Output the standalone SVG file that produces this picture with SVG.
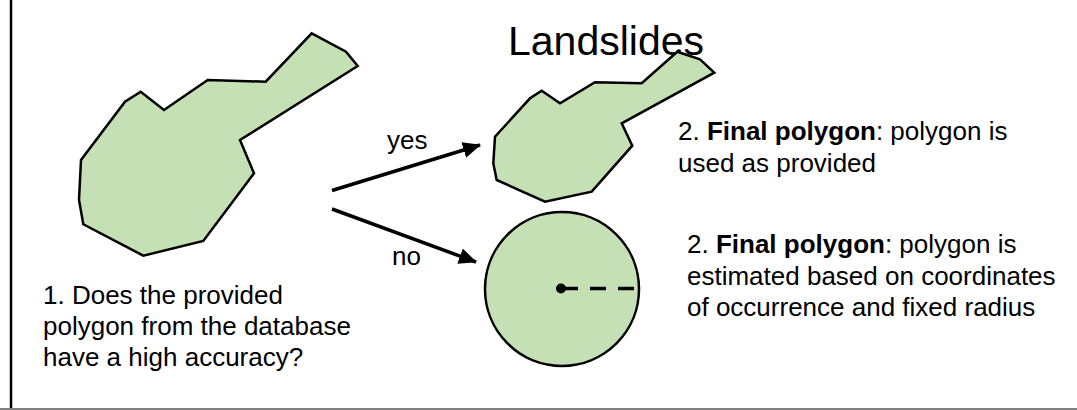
<svg xmlns="http://www.w3.org/2000/svg" width="1077" height="410" viewBox="0 0 1077 410">
<style>
.shape{fill:#C5E0B4;stroke:#000;stroke-width:2.5;stroke-linejoin:miter}
.txt{font-family:"Liberation Sans",Arial,sans-serif;font-size:26px;fill:#000}
.title{font-family:"Liberation Sans",Arial,sans-serif;font-size:41px;fill:#000}
.conn{stroke:#000;stroke-width:3.5;fill:none}
b,.b{font-weight:bold}
</style>
<defs>
<marker id="ah" markerUnits="userSpaceOnUse" markerWidth="18" markerHeight="16" refX="17" refY="8" orient="auto">
<path d="M0,0 L18,8 L0,16 Z" fill="#000"/>
</marker>
</defs>
<rect x="0" y="0" width="1077" height="410" fill="#fff"/>
<line x1="11" y1="0" x2="11" y2="410" stroke="#000" stroke-width="2.5"/>
<line x1="0" y1="409" x2="1077" y2="409" stroke="#808080" stroke-width="2"/>
<g id="title">
<text class="title" x="508" y="55">Landslides</text>
</g>
<g id="node-source">
<polygon class="shape" points="311.7,33.3 346,51.7 357.7,66 240,140 254,173.3 203.3,241 143.3,255.7 83.3,224.3 79,200 81,160 125,101.7 140.7,91.7 164,110 207.7,80 265.7,81.7"/>
<text class="txt" x="43" y="304">1. Does the provided</text>
<text class="txt" x="43" y="335">polygon from the database</text>
<text class="txt" x="43" y="366">have a high accuracy?</text>
</g>
<g id="node-yes">
<polygon class="shape" points="677.3,51.7 700,59.3 714.3,72.7 621.7,123.3 632.3,145.7 591.7,191.7 545,201.7 496.7,180 493.3,163.3 495,136.7 530,98.3 541.7,90.7 560,103.3 595,82.3 641.7,83.3"/>
<text class="txt" x="678" y="140">2. <tspan class="b">Final polygon</tspan>: polygon is</text>
<text class="txt" x="678" y="172">used as provided</text>
</g>
<g id="node-no">
<circle class="shape" cx="562" cy="289" r="77"/>
<line x1="562" y1="288.5" x2="638" y2="288.5" stroke="#000" stroke-width="3.5" stroke-dasharray="16 12"/>
<circle cx="561" cy="288.5" r="5" fill="#000"/>
<text class="txt" x="687" y="253">2. <tspan class="b">Final polygon</tspan>: polygon is</text>
<text class="txt" x="687" y="285">estimated based on coordinates</text>
<text class="txt" x="687" y="316">of occurrence and fixed radius</text>
</g>
<g id="connectors">
<line class="conn" x1="332" y1="190.5" x2="480" y2="145" marker-end="url(#ah)"/>
<text class="txt" x="387" y="149">yes</text>
<line class="conn" x1="332" y1="209" x2="476" y2="262" marker-end="url(#ah)"/>
<text class="txt" x="392" y="265">no</text>
</g>
</svg>
